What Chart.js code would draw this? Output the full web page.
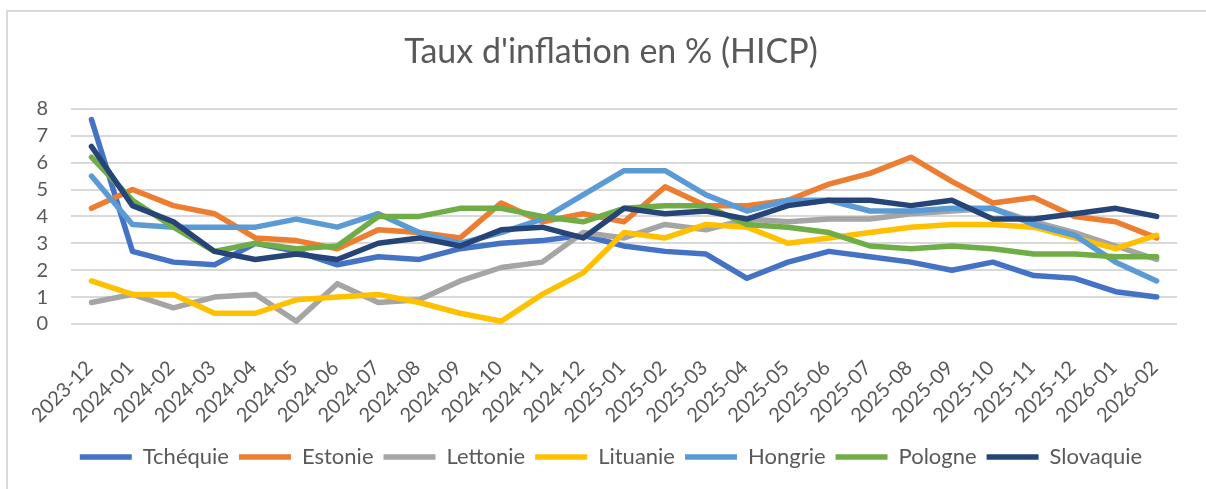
<!DOCTYPE html>
<html><head><meta charset="utf-8">
<script src="https://cdn.jsdelivr.net/npm/chart.js@4.4.1/dist/chart.umd.min.js"></script>
<style>html,body{margin:0;padding:0;background:#fff;}canvas{display:block;}</style>
</head><body>
<canvas id="c" width="1206" height="489"></canvas>
<script>
const categories = ['2023-12','2024-01','2024-02','2024-03','2024-04','2024-05','2024-06','2024-07','2024-08','2024-09','2024-10','2024-11','2024-12','2025-01','2025-02','2025-03','2025-04','2025-05','2025-06','2025-07','2025-08','2025-09','2025-10','2025-11','2025-12','2026-01','2026-02'];
const tchequie  = [7.6,2.7,2.3,2.2,3.0,2.7,2.2,2.5,2.4,2.8,3.0,3.1,3.3,2.9,2.7,2.6,1.7,2.3,2.7,2.5,2.3,2.0,2.3,1.8,1.7,1.2,1.0];
const estonie   = [4.3,5.0,4.4,4.1,3.2,3.1,2.8,3.5,3.4,3.2,4.5,3.8,4.1,3.8,5.1,4.4,4.4,4.6,5.2,5.6,6.2,5.3,4.5,4.7,4.0,3.8,3.2];
const lettonie  = [0.8,1.1,0.6,1.0,1.1,0.1,1.5,0.8,0.9,1.6,2.1,2.3,3.4,3.2,3.7,3.5,3.9,3.8,3.9,3.9,4.1,4.2,4.3,3.8,3.4,2.9,2.4];
const lituanie  = [1.6,1.1,1.1,0.4,0.4,0.9,1.0,1.1,0.8,0.4,0.1,1.1,1.9,3.4,3.2,3.7,3.6,3.0,3.2,3.4,3.6,3.7,3.7,3.6,3.2,2.8,3.3];
const hongrie   = [5.5,3.7,3.6,3.6,3.6,3.9,3.6,4.1,3.4,3.0,3.4,3.9,4.8,5.7,5.7,4.8,4.2,4.6,4.6,4.2,4.2,4.3,4.3,3.7,3.3,2.3,1.6];
const pologne   = [6.2,4.6,3.6,2.7,3.0,2.8,2.9,4.0,4.0,4.3,4.3,4.0,3.8,4.3,4.4,4.4,3.7,3.6,3.4,2.9,2.8,2.9,2.8,2.6,2.6,2.5,2.5];
const slovaquie = [6.6,4.4,3.8,2.7,2.4,2.6,2.4,3.0,3.2,2.9,3.5,3.6,3.2,4.3,4.1,4.2,3.9,4.4,4.6,4.6,4.4,4.6,3.9,3.9,4.1,4.3,4.0];
const seriesNames = ['Tchéquie','Estonie','Lettonie','Lituanie','Hongrie','Pologne','Slovaquie'];
const seriesValues = [tchequie, estonie, lettonie, lituanie, hongrie, pologne, slovaquie];
const seriesColors = ['#4472C4','#ED7D31','#A5A5A5','#FFC000','#5B9BD5','#70AD47','#264478'];
const yMin = 0, yMax = 8, yStep = 1;
const titleText = "Taux d'inflation en % (HICP)";

const FONT = 'Lato, "Noto Sans", sans-serif';
const TXT = '#595959';

const frame = {
  id: 'frame',
  beforeDraw(c) {
    const g = c.ctx;
    g.save();
    g.fillStyle = '#fff';
    g.fillRect(0, 0, c.width, c.height);
    g.strokeStyle = '#d9d9d9';
    g.lineWidth = 2;
    g.strokeRect(7, 11, 1300, 600);
    g.restore();
  }
};

new Chart(document.getElementById('c'), {
  type: 'line',
  data: {
    labels: categories,
    datasets: seriesValues.map((d, i) => ({
      label: seriesNames[i],
      data: d,
      borderColor: seriesColors[i],
      backgroundColor: seriesColors[i],
      borderWidth: 5.5,
      pointRadius: 0,
      pointHoverRadius: 0,
      tension: 0,
      fill: false,
      borderCapStyle: 'round',
      borderJoinStyle: 'round',
      order: seriesValues.length - 1 - i
    }))
  },
  options: {
    responsive: false,
    animation: false,
    devicePixelRatio: 1,
    layout: { padding: { left: 35, right: 19, top: 0, bottom: 11 } },
    plugins: {
      title: {
        display: true, text: titleText, color: TXT,
        font: { family: FONT, size: 34, weight: 'normal' },
        padding: { top: 32, bottom: 36 }
      },
      legend: {
        position: 'bottom',
        labels: {
          usePointStyle: true, pointStyle: 'line', pointStyleWidth: 52,
          color: TXT, font: { family: FONT, size: 22 }, padding: 10,
          sort: (a, b) => a.datasetIndex - b.datasetIndex
        }
      },
      tooltip: { enabled: false }
    },
    scales: {
      x: {
        offset: true,
        grid: { display: false, drawTicks: false, offset: true },
        border: { display: false },
        ticks: { color: TXT, font: { family: FONT, size: 20 }, maxRotation: 45, minRotation: 45, autoSkip: false, padding: 32, labelOffset: -2 },
        afterFit: s => { s.height = 112; }
      },
      y: {
        min: yMin, max: yMax,
        ticks: { stepSize: yStep, autoSkip: false, color: TXT, font: { family: FONT, size: 20 }, padding: 23 },
        grid: { color: '#d9d9d9', lineWidth: 2, drawTicks: false },
        border: { display: false },
        afterFit: s => { s.width = 36; }
      }
    }
  },
  plugins: [frame]
});
</script>
</body></html>
